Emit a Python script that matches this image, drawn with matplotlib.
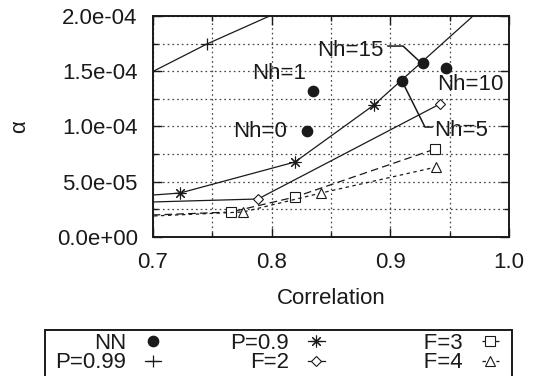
import matplotlib
matplotlib.use("Agg")
import matplotlib.pyplot as plt
from matplotlib.ticker import MultipleLocator, FormatStrFormatter
from matplotlib.lines import Line2D
from matplotlib.patches import Rectangle

plt.rcParams['font.family'] = ['Liberation Sans', 'DejaVu Sans']
plt.rcParams['font.size'] = 16
plt.rcParams['lines.scale_dashes'] = False

INK = '#1a1a1a'

# ---- data ----
nn_x = [0.8298, 0.8348, 0.9098, 0.9470, 0.9275]
nn_y = [9.59e-5, 1.321e-4, 1.412e-4, 1.529e-4, 1.575e-4]
nn_labels = ['Nh=0', 'Nh=1', 'Nh=5', 'Nh=10', 'Nh=15']

p099_x = [0.68, 0.7455, 0.85]
p099_y = [1.389e-4, 1.747e-4, 2.248e-4]

p09_x = [0.66, 0.7228, 0.8197, 0.8862, 1.05]
p09_y = [3.48e-5, 3.98e-5, 6.79e-5, 1.195e-4, 2.774e-4]

f2_x = [0.66, 0.7885, 0.9418]
f2_y = [3.05e-5, 3.44e-5, 1.204e-4]

f3_x = [0.66, 0.7657, 0.8197, 0.9376]
f3_y = [1.83e-5, 2.26e-5, 3.62e-5, 7.96e-5]

f4_x = [0.66, 0.7758, 0.8416, 0.9385]
f4_y = [1.71e-5, 2.26e-5, 3.98e-5, 6.33e-5]

# annotation text positions (label centers)
ann_text_x = [0.7906, 0.8062, 0.9600, 0.9676, 0.8664]
ann_text_y = [0.959e-4, 1.484e-4, 0.968e-4, 1.376e-4, 1.692e-4]
# leader lines
lead15_x = [0.8980, 0.9107, 0.9235]
lead15_y = [1.728e-4, 1.728e-4, 1.600e-4]
lead5_x = [0.9098, 0.9292, 0.9351]
lead5_y = [1.412e-4, 0.995e-4, 0.995e-4]

xticks = [0.7, 0.8, 0.9, 1.0]

# ---- figure ----
fig = plt.figure(figsize=(5.36, 3.76), dpi=100)
ax = fig.add_axes([153/536, 1-237/376, 356/536, 221/376])
ax.set_xlim(0.7, 1.0)
ax.set_ylim(0, 2e-4)

ax.xaxis.set_major_locator(MultipleLocator(0.1))
ax.xaxis.set_minor_locator(MultipleLocator(0.05))
ax.yaxis.set_major_locator(MultipleLocator(5e-5))
ax.yaxis.set_minor_locator(MultipleLocator(2.5e-5))
ax.xaxis.set_major_formatter(FormatStrFormatter('%.1f'))
ax.yaxis.set_major_formatter(FormatStrFormatter('%.1e'))

ax.grid(True, which='both', linestyle=(0, (1.2, 2.2)), linewidth=0.9, color='#444444')
ax.set_axisbelow(True)
ax.tick_params(which='both', direction='in', top=True, right=True, colors=INK,
               labelcolor=INK, width=1.0)
ax.tick_params(which='major', length=6.5)
ax.tick_params(which='minor', length=3.5)
ax.tick_params(axis='y', which='major', pad=11)
ax.tick_params(axis='x', which='major', pad=11)
for s in ax.spines.values():
    s.set_linewidth(1.4)
    s.set_color(INK)

lw = 0.9
l_nn, = ax.plot(nn_x, nn_y, linestyle='none', marker='o', markersize=7.4,
                color=INK, label='NN')
l_p099, = ax.plot(p099_x, p099_y, color=INK, lw=lw, marker='+', markersize=8,
                  mew=0.9, label='P=0.99')
l_p09, = ax.plot(p09_x, p09_y, color=INK, lw=lw, marker=(8, 2, 0), markersize=8.5,
                 mew=0.8, label='P=0.9')
l_f2, = ax.plot(f2_x, f2_y, color=INK, lw=lw, marker='D', markersize=5.2,
                mfc='white', mew=0.8, label='F=2')
l_f3, = ax.plot(f3_x, f3_y, color=INK, lw=lw, linestyle=(0, (5.5, 3.0)), marker='s',
                markersize=7.2, mfc='white', mew=0.8, label='F=3')
l_f4, = ax.plot(f4_x, f4_y, color=INK, lw=lw, linestyle=(0, (2.5, 2.5)), marker='^',
                markersize=7.2, mfc='white', mew=0.8, label='F=4')

for tx, ty, lab in zip(ann_text_x, ann_text_y, nn_labels):
    ax.text(tx, ty, lab, ha='center', va='center', color=INK, zorder=5)
ax.plot(lead15_x, lead15_y, color=INK, lw=1.1)
ax.plot(lead5_x, lead5_y, color=INK, lw=1.1)

ax.set_xlabel('Correlation', color=INK)
ax.set_ylabel('α', color=INK)
ax.xaxis.set_label_coords(0.5, (237-298)/221)
ax.xaxis.label.set_va('center')
ax.yaxis.set_label_coords((20-153)/356, 0.5)
ax.yaxis.label.set_va('center')

# ---- legend ----
handles = [l_nn, l_p099, l_p09, l_f2, l_f3, l_f4]
labels = ['NN', 'P=0.99', 'P=0.9', 'F=2', '     F=3', '     F=4']
leg = fig.legend(handles, labels, loc='upper left', ncol=3, markerfirst=False,
                 bbox_to_anchor=(55/536, 1-333/376), borderaxespad=0, borderpad=0,
                 frameon=False, handlelength=0.75, handletextpad=0.85,
                 columnspacing=3.1, labelspacing=-0.07)
for t in leg.get_texts():
    t.set_color(INK)
fig.add_artist(Rectangle((45/536, -0.05), (512-45)/536, 0.05+(376-330)/376,
                         transform=fig.transFigure, fill=False, lw=1.4,
                         edgecolor=INK, clip_on=False))

fig.savefig('out.png', dpi=100)
